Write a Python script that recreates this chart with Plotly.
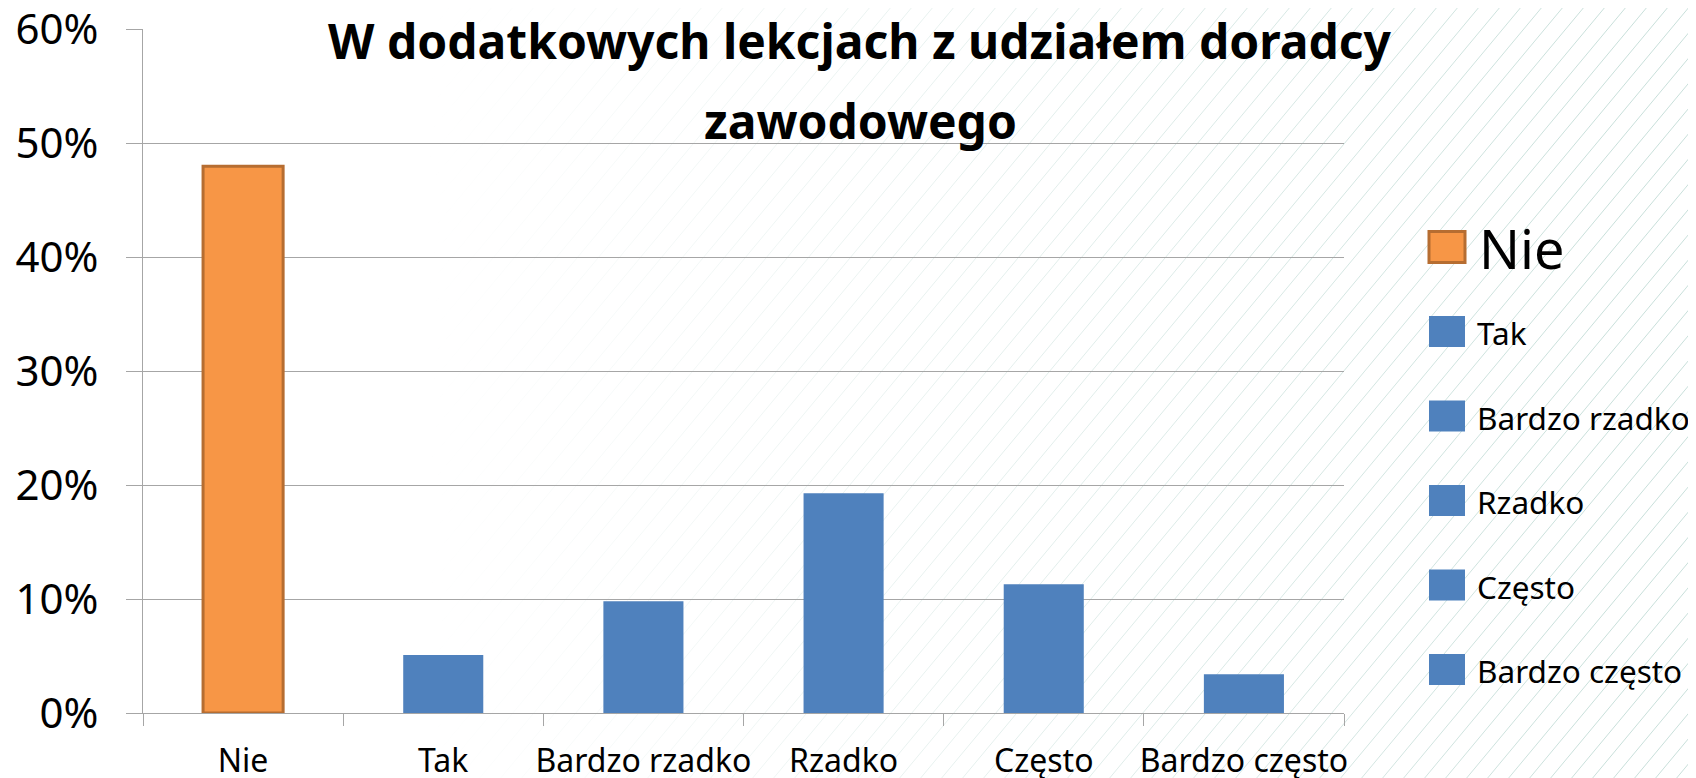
import base64
import plotly.graph_objects as go

# ---- data ----
categories = ["Nie", "Tak", "Bardzo rzadko", "Rzadko", "Często", "Bardzo często"]
values = [0.480, 0.051, 0.098, 0.193, 0.113, 0.034]
highlight = "Nie"
y_tick_vals = [0.0, 0.1, 0.2, 0.3, 0.4, 0.5, 0.6]
y_tick_text = ["0%", "10%", "20%", "30%", "40%", "50%", "60%"]
title_lines = ["W dodatkowych lekcjach z udziałem doradcy", "zawodowego"]

# ---- style ----
W, H = 1696, 778
OFF = 8  # default page body margin
ML, MT = 143 - OFF, 29 - OFF
PLOT_R, PLOT_B = 1344 - OFF, 713 - OFF
MR, MB = W - PLOT_R, H - PLOT_B
PW, PH = PLOT_R - ML, PLOT_B - MT
ORANGE, ORANGE_EDGE, BLUE = "#F79646", "#B66D31", "#4F81BD"
GRID = "#A6A6A6"
FONT = "Noto Sans"

def px_x(x):  # page pixel -> paper
    return (x - OFF - ML) / PW

def px_y(y):
    return (PLOT_B - (y - OFF)) / PH

colors = [ORANGE if c == highlight else BLUE for c in categories]
line_w = [3 if c == highlight else 0 for c in categories]
line_c = [ORANGE_EDGE if c == highlight else BLUE for c in categories]

fig = go.Figure()
fig.add_trace(go.Bar(
    x=categories, y=values, width=0.4,
    marker=dict(color=colors, line=dict(color=line_c, width=line_w)),
    showlegend=False, hoverinfo="x+y",
))

# ---- background hatch (decoration) ----
lines = []
slope = 1.2
xb = -900
while xb < W + 40:
    lines.append(f'<line x1="{xb}" y1="{H}" x2="{xb + H / slope:.1f}" y2="0"/>')
    xb += 21
svg = (
    f'<svg xmlns="http://www.w3.org/2000/svg" width="{W}" height="{H}" viewBox="0 0 {W} {H}">'
    '<defs><linearGradient id="g" gradientUnits="userSpaceOnUse" x1="420" y1="0" x2="1600" y2="0">'
    '<stop offset="0" stop-color="#c8dfda" stop-opacity="0"/>'
    '<stop offset="1" stop-color="#c8dfda" stop-opacity="1"/>'
    '</linearGradient></defs>'
    '<g stroke="url(#g)" stroke-width="1.0" fill="none">' + "".join(lines) + '</g></svg>'
)
src = "data:image/svg+xml;base64," + base64.b64encode(svg.encode()).decode()

# ---- manual legend ----
shapes, annotations = [], []
leg_x0, leg_sq_w, leg_sq_h = 1429, 36, 31
leg_y0, leg_step = 247, 84.5
for i, c in enumerate(categories):
    cy = leg_y0 + i * leg_step
    is_h = c == highlight
    shapes.append(dict(
        type="rect", xref="paper", yref="paper",
        x0=px_x(leg_x0), x1=px_x(leg_x0 + leg_sq_w),
        y0=px_y(cy + leg_sq_h / 2), y1=px_y(cy - leg_sq_h / 2),
        fillcolor=ORANGE if is_h else BLUE,
        line=dict(color=ORANGE_EDGE if is_h else BLUE, width=3 if is_h else 0),
    ))
    annotations.append(dict(
        text=c, xref="paper", yref="paper",
        x=px_x(1477 if is_h else 1475), y=px_y(cy + 1),
        xanchor="left", yanchor="middle", showarrow=False,
        font=dict(family=FONT, size=54 if is_h else 31.5, color="#000000"),
    ))

# ---- title ----
title_centers = [40, 120]
for t, cy in zip(title_lines, title_centers):
    annotations.append(dict(
        text=f"<b>{t}</b>", xref="paper", yref="paper",
        x=px_x(860), y=px_y(cy), xanchor="center", yanchor="middle",
        showarrow=False, font=dict(family=FONT, size=48, color="#000000"),
    ))

fig.update_layout(
    width=W, height=H,
    margin=dict(l=ML, r=MR, t=MT, b=MB, pad=0, autoexpand=False),
    paper_bgcolor="white", plot_bgcolor="rgba(0,0,0,0)",
    font=dict(family=FONT, color="#000000"),
    images=[dict(source=src, xref="paper", yref="paper",
                 x=-ML / PW, y=1 + MT / PH, sizex=W / PW, sizey=H / PH,
                 xanchor="left", yanchor="top", sizing="stretch", layer="below")],
    shapes=shapes, annotations=annotations,
    bargap=0.6,
)
fig.update_xaxes(
    showline=True, linecolor=GRID, linewidth=1.3,
    ticks="outside", ticklen=12, tickcolor=GRID, tickwidth=1.3,
    tickson="boundaries", showgrid=False, tickangle=0, automargin=False,
    tickfont=dict(family=FONT, size=32, color="#000000"),
    ticklabelstandoff=19, ticklabeloverflow="allow",
)
fig.update_yaxes(
    range=[0, 0.6004], tickvals=y_tick_vals, ticktext=y_tick_text,
    showgrid=True, gridcolor=GRID, gridwidth=1.3,
    showline=True, linecolor=GRID, linewidth=1.3,
    ticks="outside", ticklen=16, tickcolor=GRID, tickwidth=1.3,
    zeroline=False, automargin=False,
    tickfont=dict(family=FONT, size=42, color="#000000"),
    ticklabelstandoff=19, ticklabeloverflow="allow",
)

fig.write_html("out.html")
